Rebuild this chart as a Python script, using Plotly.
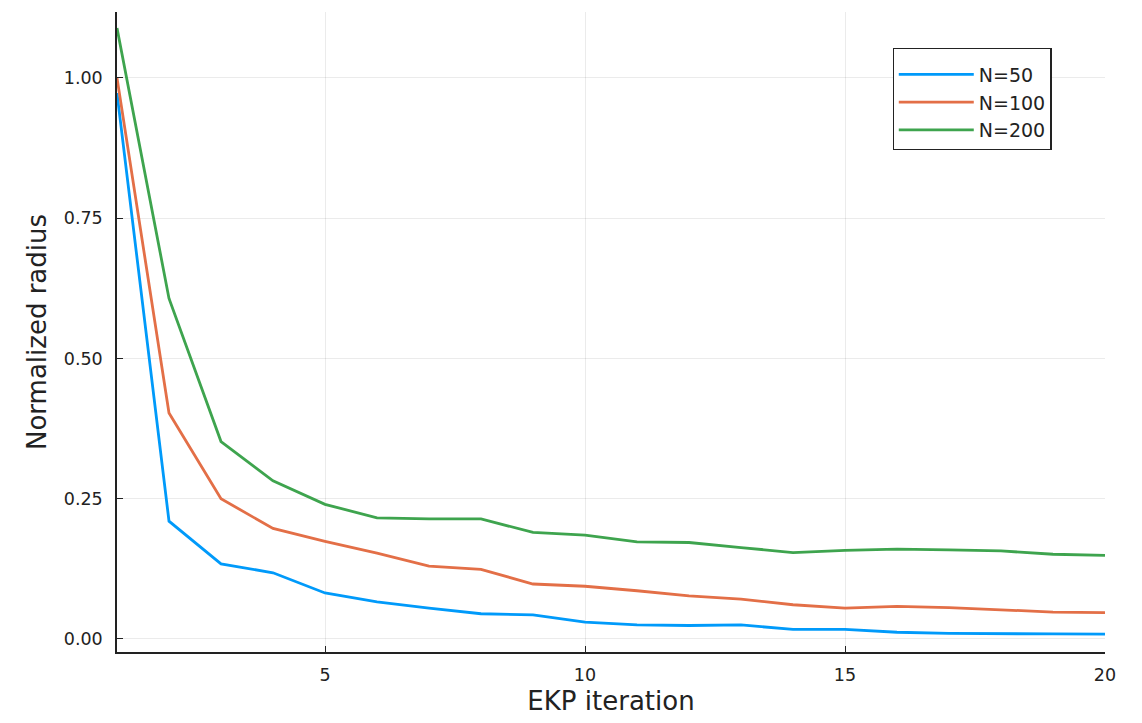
import plotly.graph_objects as go

# EKP iterations and normalized ensemble radius for three ensemble sizes
iterations = list(range(1, 21))

radius_n50 = [0.973, 0.210, 0.134, 0.118, 0.082, 0.066, 0.055, 0.045, 0.043, 0.030,
              0.025, 0.024, 0.025, 0.017, 0.017, 0.012, 0.010, 0.010, 0.009, 0.0085]
radius_n100 = [1.000, 0.403, 0.250, 0.197, 0.174, 0.153, 0.130, 0.124, 0.098, 0.094,
               0.086, 0.077, 0.071, 0.061, 0.055, 0.058, 0.056, 0.052, 0.048, 0.047]
radius_n200 = [1.089, 0.607, 0.352, 0.282, 0.240, 0.216, 0.214, 0.214, 0.190, 0.185,
               0.173, 0.172, 0.163, 0.154, 0.158, 0.160, 0.159, 0.157, 0.151, 0.149]

series = [
    ("N=50", radius_n50, "#009AFA"),
    ("N=100", radius_n100, "#E36F47"),
    ("N=200", radius_n200, "#3EA44E"),
]

fig = go.Figure()
for name, values, color in series:
    fig.add_trace(go.Scatter(
        x=iterations, y=values, name=name, mode="lines",
        line=dict(color=color, width=2.8),
    ))

font_family = "DejaVu Sans"
text_color = "#222222"

fig.update_layout(
    width=1142, height=723,
    margin=dict(l=117, r=37, t=12, b=71),
    paper_bgcolor="white", plot_bgcolor="white",
    font=dict(family=font_family, color=text_color),
    showlegend=True,
    legend=dict(
        x=0.785, y=0.944, xanchor="left", yanchor="top",
        bgcolor="white", bordercolor=text_color, borderwidth=1.2,
        font=dict(size=19, family=font_family, color=text_color),
        itemwidth=75,
        title=dict(text=" ", font=dict(size=5)),
        tracegroupgap=0,
    ),
)

fig.update_xaxes(
    range=[1, 20],
    tickvals=[5, 10, 15, 20],
    ticks="inside", ticklen=6, tickcolor=text_color,
    ticklabelstandoff=6,
    showline=True, linecolor=text_color, linewidth=1.5,
    showgrid=True, gridcolor="rgba(0,0,0,0.08)", gridwidth=1,
    zeroline=False, mirror=False,
    tickfont=dict(size=17.5, family=font_family, color=text_color),
    title=dict(text="EKP iteration", font=dict(size=26, family=font_family, color=text_color),
               standoff=8),
)

fig.update_yaxes(
    range=[-0.0232, 1.1176],
    tickvals=[0, 0.25, 0.5, 0.75, 1.0],
    tickformat=".2f",
    ticks="inside", ticklen=6, tickcolor=text_color,
    ticklabelstandoff=9,
    showline=True, linecolor=text_color, linewidth=1.5,
    showgrid=True, gridcolor="rgba(0,0,0,0.08)", gridwidth=1,
    zeroline=False, mirror=False,
    tickfont=dict(size=17.5, family=font_family, color=text_color),
    title=dict(text="Normalized radius", font=dict(size=26, family=font_family, color=text_color),
               standoff=10),
)

fig.write_html("out.html")
